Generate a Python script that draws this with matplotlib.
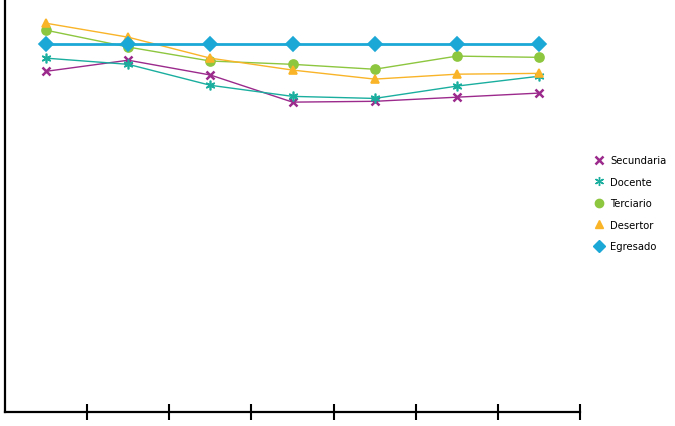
import matplotlib
matplotlib.use('AGG')
import matplotlib.pyplot as plt
from matplotlib.lines import Line2D

categories = [1, 2, 3, 4, 5, 6, 7]
secundaria = [82.9, 85.6, 82.0, 75.4, 75.6, 76.6, 77.6]
docente = [86.1, 84.6, 79.5, 76.8, 76.3, 79.3, 81.7]
terciario = [92.9, 88.8, 85.4, 84.6, 83.4, 86.6, 86.3]
desertor = [94.6, 91.2, 86.1, 83.2, 81.0, 82.2, 82.4]
egresado = [89.6, 89.6, 89.6, 89.6, 89.6, 89.6, 89.6]

names = ['Secundaria', 'Docente', 'Terciario', 'Desertor', 'Egresado']
series = [secundaria, docente, terciario, desertor, egresado]
colors = ['#9B2A8C', '#1AAE9F', '#8DC63F', '#F9B428', '#1BA8D6']
markers = ['x', (6, 2, 0), 'o', '^', 'D']
sizes = [6, 7, 6.5, 6, 7]
widths = [1.0, 1.0, 1.0, 1.0, 2.0]

fig = plt.figure(figsize=(6.75, 4.27), dpi=100)
ax = fig.add_axes([0.0074, 0.033, 0.852, 0.967])

x = list(range(len(categories)))
for vals, c, m, s, w in zip(series, colors, markers, sizes, widths):
    ax.plot(x, vals, color=c, lw=w, marker=m, ms=s, mew=1.8 if m == 'x' else 1.2,
            mec=c, mfc=c)

ax.set_xlim(-0.5, 6.5)
ax.set_ylim(0, 100.5)
ax.set_xticks([i + 0.5 for i in range(len(categories))])
ax.set_xticklabels([])
ax.set_yticks([])
ax.tick_params(axis='x', direction='inout', length=12, width=1.5)
for s in ['top', 'right']:
    ax.spines[s].set_visible(False)
for s in ['left', 'bottom']:
    ax.spines[s].set_linewidth(1.6)

handles = [Line2D([], [], color=c, marker=m, ls='none', ms=s - 0.5,
                  mew=1.8 if m == 'x' else 1)
           for c, m, s in zip(colors, markers, sizes)]
fig.legend(handles, names, loc='upper left', bbox_to_anchor=(0.868, 0.655),
           frameon=False, fontsize=7.2, handlelength=0.8, handletextpad=0.7,
           labelspacing=1.15)

plt.savefig('out.png')
